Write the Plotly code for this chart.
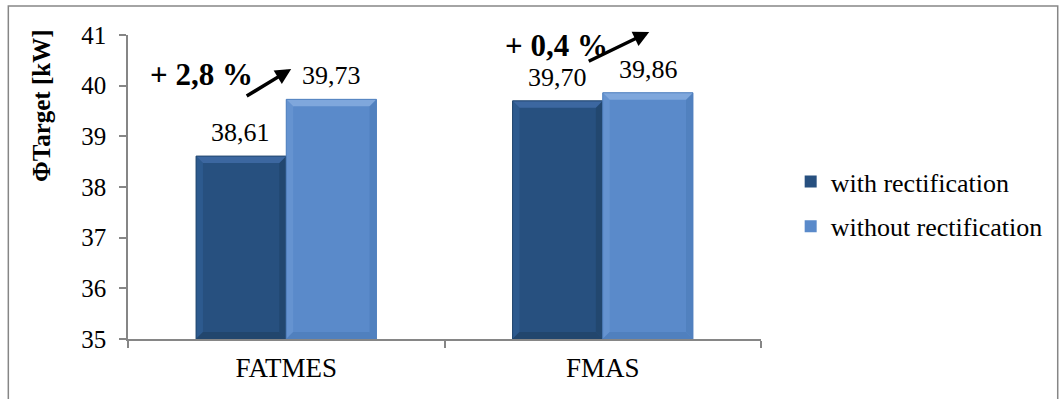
import plotly.graph_objects as go

# Heat output per configuration
categories = ["FATMES", "FMAS"]
with_rect = [38.61, 39.70]
without_rect = [39.73, 39.86]
value_labels_with = ["38,61", "39,70"]
value_labels_without = ["39,73", "39,86"]
gain_labels = ["+ 2,8 %", "+ 0,4 %"]

FONT = "Liberation Serif"
DARK = "#27507F"
LIGHT = "#5A8ACA"
AXIS = "#868686"
BASE = 35

# plot area geometry in pixels
W, H = 1060, 399
L, R, T, B = 128, 292, 35, 60
PW, PH = W - L - R, H - T - B
BARGAP = 0.43


def px(x):
    return (x - L) / PW


def py(y):
    return (H - B - y) / PH


fig = go.Figure()
fig.add_trace(go.Bar(
    x=categories, y=with_rect, name="with rectification",
    marker=dict(color=DARK, line=dict(width=0)),
    legendgroup="a",
))
fig.add_trace(go.Bar(
    x=categories, y=without_rect, name="without rectification",
    marker=dict(color=LIGHT, line=dict(width=0)),
    legendgroup="b",
))

# bevelled edges of each bar, built from the bar values
bar_w = (1 - BARGAP) / 2
ex = 7 / (PW / len(categories))   # edge thickness in category units
ey = 7 / (PH / 6)                 # edge thickness in value units
bevel = {
    "a": dict(top="#3C67A0", left="#2D5A8E", right="#22476F", bottom="#22466D"),
    "b": dict(top="#7FA7DC", left="#6593D0", right="#5181BF", bottom="#5080BE"),
}
shapes = []


def add_bevel(x0, x1, top, cols):
    y0 = BASE
    polys = {
        "left": [(x0, y0), (x0, top), (x0 + ex, top - ey), (x0 + ex, y0 + ey)],
        "right": [(x1, y0), (x1, top), (x1 - ex, top - ey), (x1 - ex, y0 + ey)],
        "bottom": [(x0, y0), (x1, y0), (x1 - ex, y0 + ey), (x0 + ex, y0 + ey)],
        "top": [(x0, top), (x1, top), (x1 - ex, top - ey), (x0 + ex, top - ey)],
    }
    for side, pts in polys.items():
        path = "M " + " L ".join(f"{a},{b}" for a, b in pts) + " Z"
        shapes.append(dict(type="path", xref="x", yref="y", path=path,
                           fillcolor=cols[side], line=dict(width=0),
                           layer="above"))
    # thin dividing outline around the bar
    shapes.append(dict(type="rect", xref="x", yref="y", x0=x0, x1=x1,
                       y0=y0, y1=top, line=dict(color=cols["right"], width=1),
                       layer="above"))


for i, (v1, v2) in enumerate(zip(with_rect, without_rect)):
    add_bevel(i - bar_w, i, v1, bevel["a"])
    add_bevel(i, i + bar_w, v2, bevel["b"])

annotations = []
half = PW / len(categories) * bar_w / 2
for cat, v, t in zip(categories, with_rect, value_labels_with):
    annotations.append(dict(x=cat, y=v, text=t, showarrow=False, xshift=-half,
                            yanchor="bottom", yshift=7,
                            font=dict(family=FONT, size=26, color="black")))
for cat, v, t in zip(categories, without_rect, value_labels_without):
    annotations.append(dict(x=cat, y=v, text=t, showarrow=False, xshift=half,
                            yanchor="bottom", yshift=7,
                            font=dict(family=FONT, size=26, color="black")))

# percentage gain captions with arrows
gain_text_pos = [(202, 75), (561, 45)]
arrow_heads = [(293, 69), (655, 32)]
arrow_tails = [(247, 97), (593, 62)]
for txt, (tx, ty) in zip(gain_labels, gain_text_pos):
    annotations.append(dict(xref="paper", yref="paper", x=px(tx), y=py(ty),
                            text="<b>" + txt + "</b>", showarrow=False,
                            xanchor="center", yanchor="middle",
                            font=dict(family=FONT, size=31, color="black")))
for (hx, hy), (tx, ty) in zip(arrow_heads, arrow_tails):
    annotations.append(dict(xref="paper", yref="paper", x=px(hx), y=py(hy),
                            ax=tx - hx, ay=ty - hy, text="", showarrow=True,
                            arrowhead=2, arrowsize=0.9, arrowwidth=3.5,
                            arrowcolor="black"))

# vertical axis caption
annotations.append(dict(xref="paper", yref="paper", x=px(40), y=py(106),
                        text="<b>ΦTarget [kW]</b>", showarrow=False,
                        textangle=-90, xanchor="center", yanchor="middle",
                        font=dict(family=FONT, size=25, color="black")))

shapes.append(dict(type="rect", xref="paper", yref="paper",
                   x0=px(7), x1=px(1068), y0=py(410), y1=py(6),
                   line=dict(color=AXIS, width=1.5), layer="below"))

fig.update_layout(
    width=W, height=H,
    margin=dict(l=L, r=R, t=T, b=B),
    paper_bgcolor="white", plot_bgcolor="white",
    barmode="group", bargap=BARGAP, bargroupgap=0,
    font=dict(family=FONT, size=24, color="black"),
    showlegend=True,
    legend=dict(x=px(798), y=py(204), xanchor="left", yanchor="middle",
                font=dict(family=FONT, size=26, color="black"),
                traceorder="grouped", tracegroupgap=8,
                itemwidth=30, bgcolor="rgba(0,0,0,0)"),
    annotations=annotations,
    shapes=shapes,
)
fig.update_yaxes(
    range=[35, 41], dtick=1, tick0=35, showgrid=False, zeroline=False,
    showline=True, linecolor=AXIS, linewidth=1.5,
    ticks="outside", ticklen=7, tickcolor=AXIS, tickwidth=1.5,
    ticklabelstandoff=8,
    tickfont=dict(family=FONT, size=25, color="black"),
)
fig.update_xaxes(
    showgrid=False, showline=True, linecolor=AXIS, linewidth=1.5,
    ticks="outside", ticklen=7, tickcolor=AXIS, tickwidth=1.5,
    tickson="boundaries", range=[-0.5, 1.5], ticklabelstandoff=4,
    tickfont=dict(family=FONT, size=27, color="black"),
)

fig.write_html("out.html")
